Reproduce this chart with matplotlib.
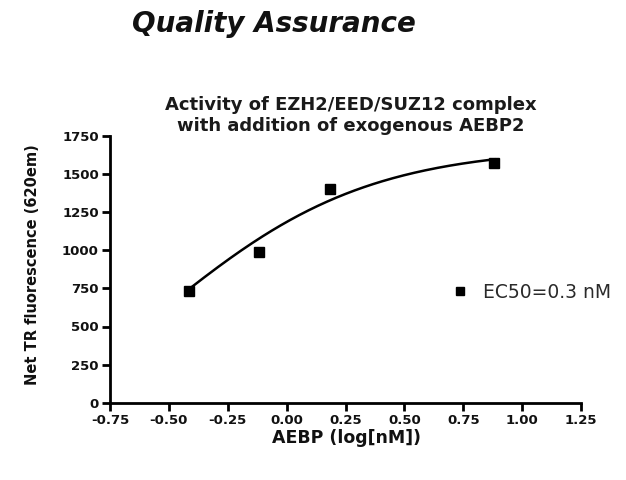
import numpy as np
import matplotlib
matplotlib.use("Agg")
import matplotlib.pyplot as plt

# Data
log_conc = [-0.415, -0.119, 0.184, 0.882]
signal = [735, 990, 1405, 1574]

# Fitted sigmoidal dose-response curve parameters (EC50 = 0.3 nM)
fit_bottom = -446.0
fit_top = 1681.0
fit_log_ec50 = -0.52
fit_hill = 1.0

x_ticks = [-0.75, -0.50, -0.25, 0.00, 0.25, 0.50, 0.75, 1.00, 1.25]
y_ticks = [0, 250, 500, 750, 1000, 1250, 1500, 1750]

plt.rcParams['font.family'] = ['DejaVu Sans']

W, H = 626, 480
ax_l, ax_r, ax_b, ax_t = 110, 581, 402.5, 136.5
fig = plt.figure(figsize=(6.26, 4.8), dpi=100)
ax = fig.add_axes([ax_l / W, 1 - ax_b / H, (ax_r - ax_l) / W, (ax_b - ax_t) / H])

xs = np.linspace(min(log_conc), max(log_conc), 200)
ys = fit_bottom + (fit_top - fit_bottom) / (1 + 10 ** ((fit_log_ec50 - xs) * fit_hill))
ax.plot(xs, ys, color='black', lw=1.8, zorder=2)
ax.plot(log_conc, signal, 's', color='black', ms=6.5, zorder=3, label='EC50=0.3 nM')

ax.set_xlim(-0.75, 1.25)
ax.set_ylim(0, 1750)
ax.set_xticks(x_ticks)
ax.set_xticklabels([f"{v:.2f}" for v in x_ticks])
ax.set_yticks(y_ticks)
ax.set_yticklabels([str(v) for v in y_ticks])
for s in ['top', 'right']:
    ax.spines[s].set_visible(False)
for s in ['left', 'bottom']:
    ax.spines[s].set_linewidth(2.0)
ax.tick_params(axis='both', width=2.0, length=6, labelsize=9.5, pad=2)
for lbl in ax.get_xticklabels() + ax.get_yticklabels():
    lbl.set_fontweight('bold')
    lbl.set_color('#111111')

ax.set_xlabel('AEBP (log[nM])', fontsize=12.5, fontweight='bold', color='#111111')
ax.set_ylabel('Net TR fluorescence (620em)', fontsize=10.5, fontweight='bold', color='#111111')
ax.xaxis.set_label_coords((347 - ax_l) / (ax_r - ax_l), -(438 - ax_b) / (ax_b - ax_t))
ax.xaxis.label.set_va('center')
ax.yaxis.set_label_coords(-(ax_l - 33) / (ax_r - ax_l), (ax_b - 265) / (ax_b - ax_t))
ax.yaxis.label.set_va('center')

leg = ax.legend(loc='center left', bbox_to_anchor=(453 / W, 1 - 292 / H),
                bbox_transform=fig.transFigure, frameon=False, borderpad=0, borderaxespad=0,
                prop={'size': 13.5}, handlelength=0.75, handletextpad=0.85, markerscale=0.9)
for t in leg.get_texts():
    t.set_color('#2a2a2a')

fig.text(351 / W, 1 - 110 / H, 'Activity of EZH2/EED/SUZ12 complex',
         ha='center', va='baseline', fontsize=13, fontweight='bold', color='#1a1a1a')
fig.text(351 / W, 1 - 131 / H, 'with addition of exogenous AEBP2',
         ha='center', va='baseline', fontsize=13, fontweight='bold', color='#1a1a1a')

fig.text(274 / W, 1 - 32 / H, 'Quality Assurance', ha='center', va='baseline',
         fontsize=20, fontweight='bold', style='italic', color='#111111')

fig.savefig('out.png', dpi=100)
